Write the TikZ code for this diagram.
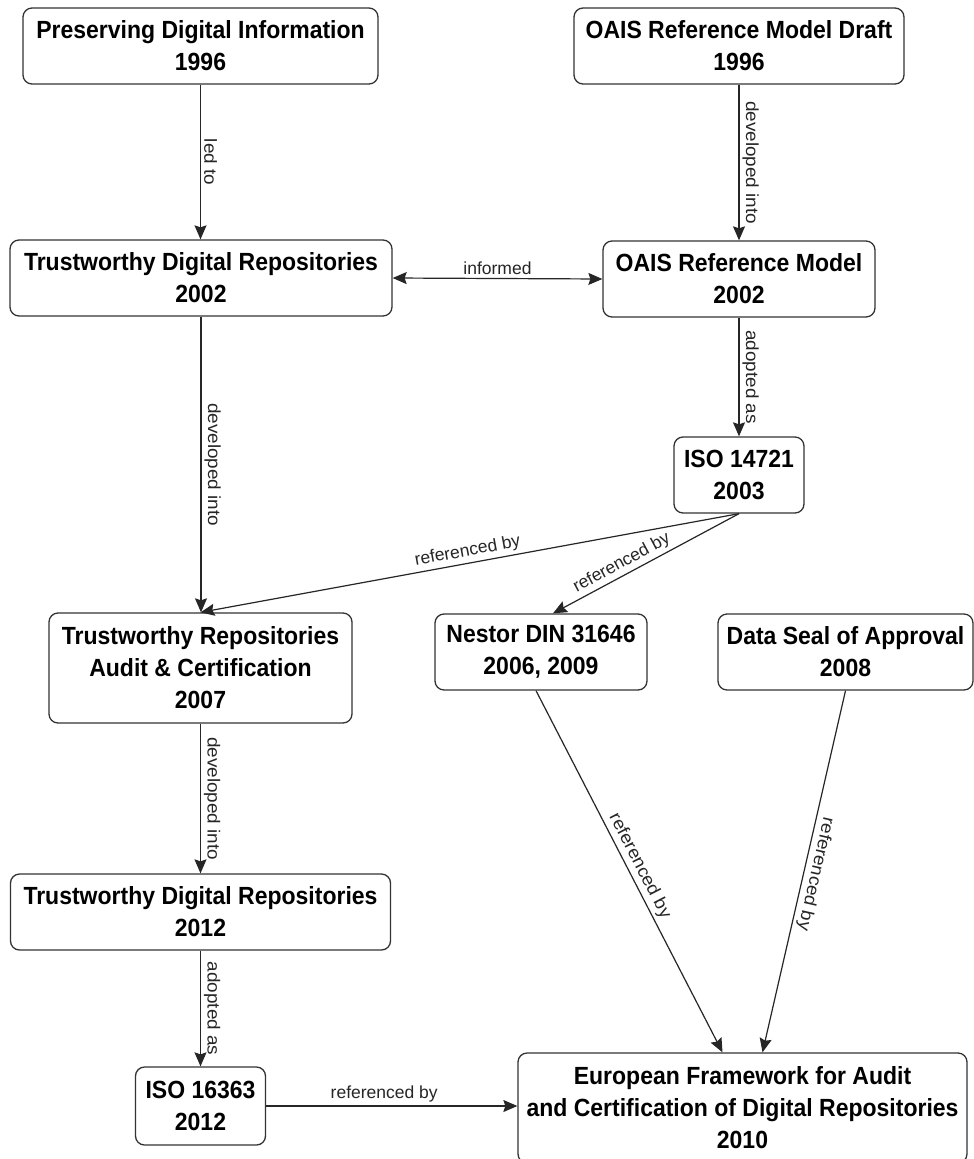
\documentclass[tikz,border=0pt]{standalone}
\usepackage{fontspec}
\usepackage{graphicx}
\setmainfont{Liberation Sans}
\usetikzlibrary{arrows.meta,calc}
% box titles are set slightly taller than the plain font
\newcommand{\tline}[1]{\scalebox{1}[1.08]{#1}}
% labels running down a connector are set slightly longer
\newcommand{\vlab}[1]{\scalebox{1.08}[1]{#1}}
\begin{document}
\begin{tikzpicture}[x=1pt,y=-1pt,
  >={Stealth[length=14pt,width=12pt,inset=2pt]},
  box/.style={draw=black!80, line width=1.3pt, rounded corners=9pt, align=center,
    inner sep=0pt, fill=white, font=\fontsize{23pt}{32pt}\selectfont\bfseries},
  link/.style={draw=black!85, line width=1.2pt, ->},
  lbl/.style={font=\fontsize{17.5pt}{20pt}\selectfont, text=black!85, inner sep=3pt},
  along/.style={lbl, sloped, allow upside down, above},
]
\useasboundingbox (0,0) rectangle (974,1159);
\fill[white] (0,0) rectangle (974,1159);

% timeline boxes
\node[box, minimum width=355pt, minimum height=76pt] (pdi) at (200.5,46) {\tline{Preserving Digital Information}\\\tline{1996}};
\node[box, minimum width=330pt, minimum height=76pt] (oaisd) at (739,46) {\tline{OAIS Reference Model Draft}\\\tline{1996}};
\node[box, minimum width=382pt, minimum height=76pt] (tdra) at (201,278) {\tline{Trustworthy Digital Repositories}\\\tline{2002}};
\node[box, minimum width=272pt, minimum height=76pt] (oais) at (739,279) {\tline{OAIS Reference Model}\\\tline{2002}};
\node[box, minimum width=130pt, minimum height=76pt] (isoa) at (739,475) {\tline{ISO 14721}\\\tline{2003}};
\node[box, minimum width=303pt, minimum height=110pt] (trac) at (200.5,668) {\tline{Trustworthy Repositories}\\\tline{Audit \& Certification}\\\tline{2007}};
\node[box, minimum width=212pt, minimum height=76pt] (nestor) at (541,652) {\tline{Nestor DIN 31646}\\\tline{2006, 2009}};
\node[box, minimum width=255pt, minimum height=76pt] (seal) at (845.5,652) {\tline{Data Seal of Approval}\\\tline{2008}};
\node[box, minimum width=380pt, minimum height=76pt] (tdrb) at (200.5,912) {\tline{Trustworthy Digital Repositories}\\\tline{2012}};
\node[box, minimum width=130pt, minimum height=78pt] (isob) at (200.5,1106) {\tline{ISO 16363}\\\tline{2012}};
\node[box, minimum width=449pt, minimum height=110pt] (euro) at (742.5,1108) {\tline{European Framework for Audit}\\\tline{and Certification of Digital Repositories}\\\tline{2010}};

% relations
\draw[link] (pdi.south) -- node[along]{\vlab{led to}} (pdi.south |- tdra.north);
\draw[link] (oaisd.south) -- node[along]{\vlab{developed into}} (oaisd.south |- oais.north);
\draw[link, <->] (tdra.east) -- node[lbl, above]{informed} (oais.west);
\draw[link] (oais.south) -- node[along]{\vlab{adopted as}} (oais.south |- isoa.north);
\draw[link] (tdra.south) -- node[along]{\vlab{developed into}} (tdra.south |- trac.north);
\draw[link] (isoa.south) -- node[lbl, sloped, above]{referenced by} (trac.north);
\draw[link] (isoa.south) -- node[lbl, sloped, above, pos=0.6]{referenced by} ($(nestor.north)+(12,0)$);
\draw[link] (trac.south) -- node[along]{\vlab{developed into}} (trac.south |- tdrb.north);
\draw[link] (tdrb.south) -- node[along]{\vlab{adopted as}} (tdrb.south |- isob.north);
\draw[link] (isob.east) -- node[lbl, above, pos=0.47]{referenced by} (euro.west |- isob.east);
\draw[link] ($(nestor.south)+(-5,0)$) -- node[along]{\vlab{referenced by}} ($(euro.north)+(-20,0)$);
\draw[link] (seal.south) -- node[along]{\vlab{referenced by}} ($(euro.north)+(20,0)$);
\end{tikzpicture}
\end{document}
